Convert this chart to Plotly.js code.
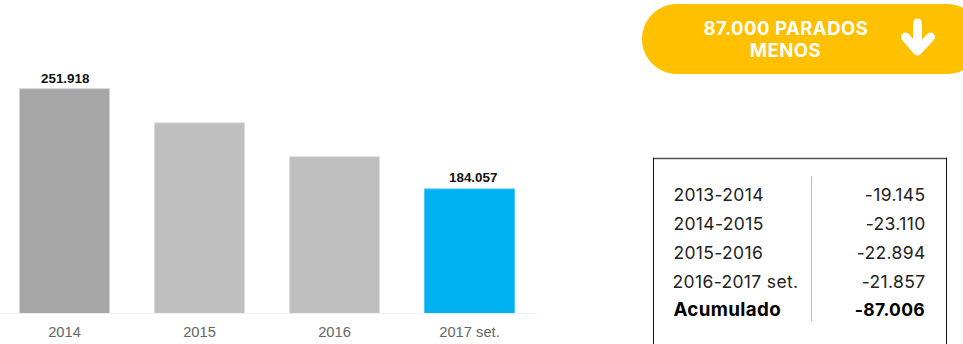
<!DOCTYPE html>
<html>
<head>
<meta charset="utf-8">
<script src="https://cdn.plot.ly/plotly-3.0.1.min.js"></script>
<style>
  html, body { margin: 0; padding: 0; background: #fff; overflow: hidden; }
  #chart { width: 963px; height: 344px; }
  .shapelayer path { stroke-linejoin: round; stroke-linecap: round; }
  .annotation text { letter-spacing: 0.35px; }
  .annotation[data-index="0"] text, .annotation[data-index="1"] text { letter-spacing: 0.5px; }
  .annotation[data-index="2"] text, .annotation[data-index="3"] text { letter-spacing: 0; }
</style>
</head>
<body>
<div id="chart"></div>
<script>
// Registered unemployment by year
const years = ["2014", "2015", "2016", "2017 set."];
const unemployed = [251918, 228808, 205914, 184057];
const valueLabels = ["251.918", "", "", "184.057"];
const barColors = ["#A6A6A6", "#BFBFBF", "#BFBFBF", "#00B0F0"];
const barEdges = ["#D4D4D4", "#DCDCDC", "#DCDCDC", "#4CC8F5"];

// Year-on-year change table
const periods = ["2013-2014", "2014-2015", "2015-2016", "2016-2017 set.", "Acumulado"];
const changes = ["-19.145", "-23.110", "-22.894", "-21.857", "-87.006"];
const rowCentres = [194.5, 223.5, 252.5, 281.5, 309.5];

const badgeLines = ["87.000 PARADOS", "MENOS"];
const badgeCentres = [28, 50];

const W = 963, H = 344;
const px = x => x / W;
const py = y => 1 - y / H;
const pt = (x, y) => px(x) + " " + py(y);
const sideFont = "Inter, 'Open Sans', sans-serif";
const chartFont = "'Liberation Sans', Arial, sans-serif";

// Pill outline running off the right edge of the page
const k = 0.5523 * 35;
const pillPath = "M " + pt(677, 4) + " L " + pt(947, 4) +
  " C " + pt(947 + k, 4) + " " + pt(982, 39 - k) + " " + pt(982, 39) +
  " C " + pt(982, 39 + k) + " " + pt(947 + k, 74) + " " + pt(947, 74) +
  " L " + pt(677, 74) +
  " C " + pt(677 - k, 74) + " " + pt(642, 39 + k) + " " + pt(642, 39) +
  " C " + pt(642, 39 - k) + " " + pt(677 - k, 4) + " " + pt(677, 4) + " Z";

// Down arrow drawn as two thick round-capped strokes
const arrowPath = "M " + pt(917.5, 23) + " L " + pt(917.5, 50) +
  " M " + pt(905.5, 37) + " L " + pt(917.5, 51) + " L " + pt(930.5, 37);

const paperLine = (x0, y0, x1, y1, color, width) => ({
  type: "line", xref: "paper", yref: "paper",
  x0: px(x0), y0: py(y0), x1: px(x1), y1: py(y1),
  line: { color: color, width: width }
});

const shapes = [
  { type: "path", xref: "paper", yref: "paper", path: pillPath, fillcolor: "#FFC000", line: { width: 0 } },
  { type: "path", xref: "paper", yref: "paper", path: arrowPath, fillcolor: "rgba(0,0,0,0)", line: { color: "#FFFFFF", width: 9 } },
  paperLine(653.5, 158.5, 946.5, 158.5, "#555555", 1.5),
  paperLine(653.5, 158, 653.5, 344, "#111111", 1),
  paperLine(946.5, 158, 946.5, 344, "#111111", 1),
  paperLine(811.5, 177, 811.5, 321, "#BBBBBB", 1)
];

const annotations = [];

badgeLines.forEach((line, i) => {
  annotations.push({
    xref: "paper", yref: "paper", x: px(785.5), y: py(badgeCentres[i]),
    xanchor: "center", yanchor: "middle", showarrow: false,
    text: "<b>" + line + "</b>",
    font: { family: sideFont, size: 18.5, color: "#FFFFFF" }
  });
});

// Value labels above the first and last bars; x is the category position
[0, 3].forEach(i => {
  annotations.push({
    xref: "x", yref: "y", x: i, y: unemployed[i],
    xanchor: "center", yanchor: "middle", yshift: i === 0 ? 10 : 11, xshift: i === 0 ? 1 : 3,
    text: "<b>" + valueLabels[i] + "</b>", showarrow: false,
    font: { family: chartFont, size: 13.4, color: "#111111" }
  });
});

periods.forEach((label, i) => {
  const last = i === periods.length - 1;
  const wrap = s => last ? "<b>" + s + "</b>" : s;
  const color = last ? "#000000" : "#222222";
  annotations.push({
    xref: "paper", yref: "paper", x: px(672.5), y: py(rowCentres[i]),
    xanchor: "left", yanchor: "middle", showarrow: false,
    text: wrap(label), font: { family: sideFont, size: last ? 18.8 : 17.5, color: color }
  });
  annotations.push({
    xref: "paper", yref: "paper", x: px(925.5), y: py(rowCentres[i]),
    xanchor: "right", yanchor: "middle", showarrow: false,
    text: wrap(changes[i]), font: { family: sideFont, size: 17.5, color: color }
  });
});

const trace = {
  type: "bar",
  x: years,
  y: unemployed,
  cliponaxis: false,
  hoverinfo: "x+y",
  marker: { color: barColors, line: { color: barEdges, width: 1 } }
};

const layout = {
  width: W,
  height: H,
  margin: { l: 0, r: 0, t: 0, b: 0 },
  paper_bgcolor: "#FFFFFF",
  plot_bgcolor: "#FFFFFF",
  showlegend: false,
  bargap: 0.333,
  xaxis: {
    domain: [0, 537 / W],
    range: [-0.478, 3.5],
    type: "category",
    showgrid: false,
    zeroline: false,
    showline: true,
    linecolor: "#F0F0F0",
    linewidth: 1,
    ticks: "outside",
    ticklen: 5,
    tickcolor: "rgba(0,0,0,0)",
    tickfont: { family: chartFont, size: 14.7, color: "#666666" }
  },
  yaxis: {
    domain: [31 / H, 1],
    range: [100000, 312000],
    visible: false,
    fixedrange: true
  },
  shapes: shapes,
  annotations: annotations
};

Plotly.newPlot("chart", [trace], layout, { displayModeBar: false, staticPlot: true });
</script>
</body>
</html>
